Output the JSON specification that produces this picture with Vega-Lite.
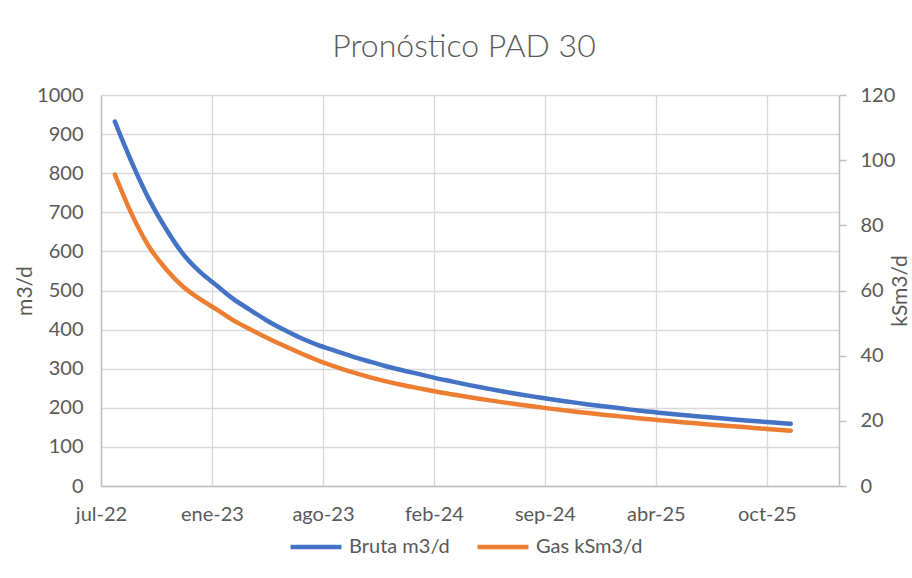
{
  "$schema": "https://vega.github.io/schema/vega-lite/v6.json",
  "width": 738,
  "height": 391,
  "autosize": {"type": "none"},
  "padding": {"left": 101, "top": 95, "right": 73, "bottom": 92},
  "background": "white",
  "title": {
    "text": "Pronóstico PAD 30",
    "font": "Lato",
    "fontSize": 32,
    "fontWeight": 300,
    "color": "#595959",
    "anchor": "middle",
    "baseline": "alphabetic",
    "offset": 36,
    "dy": 40,
    "dx": -6
  },
  "config": {
    "view": {"stroke": null},
    "axis": {
      "labelFont": "Lato",
      "labelFontSize": 20,
      "labelColor": "#595959",
      "titleFont": "Lato",
      "titleFontSize": 21,
      "titleColor": "#595959",
      "titleFontWeight": "normal",
      "domainColor": "#BFBFBF",
      "domainWidth": 1.5,
      "gridColor": "#D9D9D9",
      "gridWidth": 1.3,
      "tickColor": "#BFBFBF",
      "tickWidth": 1.5
    },
    "legend": {
      "labelFont": "Lato",
      "labelFontSize": 20,
      "labelColor": "#595959"
    }
  },
  "data": {
    "values": [
      {"date": "2022-08-01", "bruta": 932, "gas": 95.6},
      {"date": "2022-09-01", "bruta": 826, "gas": 83.2},
      {"date": "2022-10-01", "bruta": 735, "gas": 73.6},
      {"date": "2022-11-01", "bruta": 658, "gas": 66.6},
      {"date": "2022-12-01", "bruta": 595, "gas": 61.3},
      {"date": "2023-01-01", "bruta": 548, "gas": 57.4},
      {"date": "2023-02-01", "bruta": 512, "gas": 54.1},
      {"date": "2023-03-01", "bruta": 480, "gas": 51.0},
      {"date": "2023-04-01", "bruta": 451, "gas": 48.2},
      {"date": "2023-05-01", "bruta": 424, "gas": 45.6},
      {"date": "2023-06-01", "bruta": 400, "gas": 43.1},
      {"date": "2023-07-01", "bruta": 379, "gas": 40.8},
      {"date": "2023-08-01", "bruta": 361, "gas": 38.6},
      {"date": "2023-09-01", "bruta": 346, "gas": 36.7},
      {"date": "2023-10-01", "bruta": 332, "gas": 35.0},
      {"date": "2023-11-01", "bruta": 319, "gas": 33.5},
      {"date": "2023-12-01", "bruta": 307, "gas": 32.2},
      {"date": "2024-01-01", "bruta": 296, "gas": 31.0},
      {"date": "2024-02-01", "bruta": 286, "gas": 29.95},
      {"date": "2024-03-01", "bruta": 276, "gas": 29.0},
      {"date": "2024-04-01", "bruta": 267, "gas": 28.1},
      {"date": "2024-05-01", "bruta": 258, "gas": 27.25},
      {"date": "2024-06-01", "bruta": 249.5, "gas": 26.44},
      {"date": "2024-07-01", "bruta": 241.5, "gas": 25.67},
      {"date": "2024-08-01", "bruta": 234, "gas": 24.94},
      {"date": "2024-09-01", "bruta": 227, "gas": 24.25},
      {"date": "2024-10-01", "bruta": 220.5, "gas": 23.59},
      {"date": "2024-11-01", "bruta": 214.5, "gas": 22.97},
      {"date": "2024-12-01", "bruta": 208.7, "gas": 22.38},
      {"date": "2025-01-01", "bruta": 203.2, "gas": 21.82},
      {"date": "2025-02-01", "bruta": 198, "gas": 21.29},
      {"date": "2025-03-01", "bruta": 193.1, "gas": 20.79},
      {"date": "2025-04-01", "bruta": 188.5, "gas": 20.31},
      {"date": "2025-05-01", "bruta": 184.2, "gas": 19.85},
      {"date": "2025-06-01", "bruta": 180.1, "gas": 19.41},
      {"date": "2025-07-01", "bruta": 176.2, "gas": 18.98},
      {"date": "2025-08-01", "bruta": 172.5, "gas": 18.56},
      {"date": "2025-09-01", "bruta": 169, "gas": 18.15},
      {"date": "2025-10-01", "bruta": 165.6, "gas": 17.75},
      {"date": "2025-11-01", "bruta": 162.3, "gas": 17.36},
      {"date": "2025-12-01", "bruta": 159.1, "gas": 16.98}
    ]
  },
  "encoding": {
    "x": {
      "field": "date",
      "type": "temporal",
      "scale": {
        "type": "utc",
        "domain": [
          {"year": 2022, "month": 7, "date": 7, "utc": true},
          {"year": 2026, "month": 2, "date": 26, "utc": true}
        ]
      },
      "axis": {
        "title": null,
        "values": [
          {"year": 2022, "month": 7, "date": 7, "utc": true},
          {"year": 2023, "month": 1, "date": 23, "utc": true},
          {"year": 2023, "month": 8, "date": 11, "utc": true},
          {"year": 2024, "month": 2, "date": 27, "utc": true},
          {"year": 2024, "month": 9, "date": 14, "utc": true},
          {"year": 2025, "month": 4, "date": 2, "utc": true},
          {"year": 2025, "month": 10, "date": 19, "utc": true}
        ],
        "labelExpr": "['ene','feb','mar','abr','may','jun','jul','ago','sep','oct','nov','dic'][utcmonth(datum.value)] + '-' + utcFormat(datum.value, '%y')",
        "grid": true,
        "ticks": false,
        "tickSize": 0,
        "labelPadding": 18,
        "labelFlush": false,
        "labelOverlap": false
      }
    }
  },
  "layer": [
    {
      "mark": {"type": "line", "strokeWidth": 4.5, "strokeCap": "round", "strokeJoin": "round", "interpolate": "monotone"},
      "encoding": {
        "y": {
          "field": "bruta",
          "type": "quantitative",
          "scale": {"domain": [0, 1000], "nice": false},
          "axis": {
            "title": "m3/d",
            "orient": "left",
            "format": "d",
            "values": [0, 100, 200, 300, 400, 500, 600, 700, 800, 900, 1000],
            "grid": true,
            "ticks": false,
            "tickSize": 0,
            "labelPadding": 18,
            "titlePadding": 1
          }
        },
        "color": {
          "datum": "Bruta m3/d",
          "type": "nominal",
          "scale": {"domain": ["Bruta m3/d", "Gas kSm3/d"], "range": ["#4472C4", "#ED7D31"]},
          "legend": {
            "title": null,
            "orient": "none",
            "direction": "horizontal",
            "legendX": 187,
            "legendY": 424,
            "symbolType": "stroke",
            "symbolSize": 2600,
            "symbolStrokeWidth": 4.5,
            "labelOffset": 5,
            "columnPadding": 18
          }
        }
      }
    },
    {
      "mark": {"type": "line", "strokeWidth": 4.5, "strokeCap": "round", "strokeJoin": "round", "interpolate": "monotone"},
      "encoding": {
        "y": {
          "field": "gas",
          "type": "quantitative",
          "scale": {"domain": [0, 120], "nice": false},
          "axis": {
            "title": "kSm3/d",
            "titleAngle": -90,
            "orient": "right",
            "values": [0, 20, 40, 60, 80, 100, 120],
            "grid": false,
            "ticks": true,
            "tickSize": 7,
            "labelPadding": 14,
            "titlePadding": 16
          }
        },
        "color": {"datum": "Gas kSm3/d", "type": "nominal"}
      }
    }
  ],
  "resolve": {"scale": {"y": "independent"}}
}
